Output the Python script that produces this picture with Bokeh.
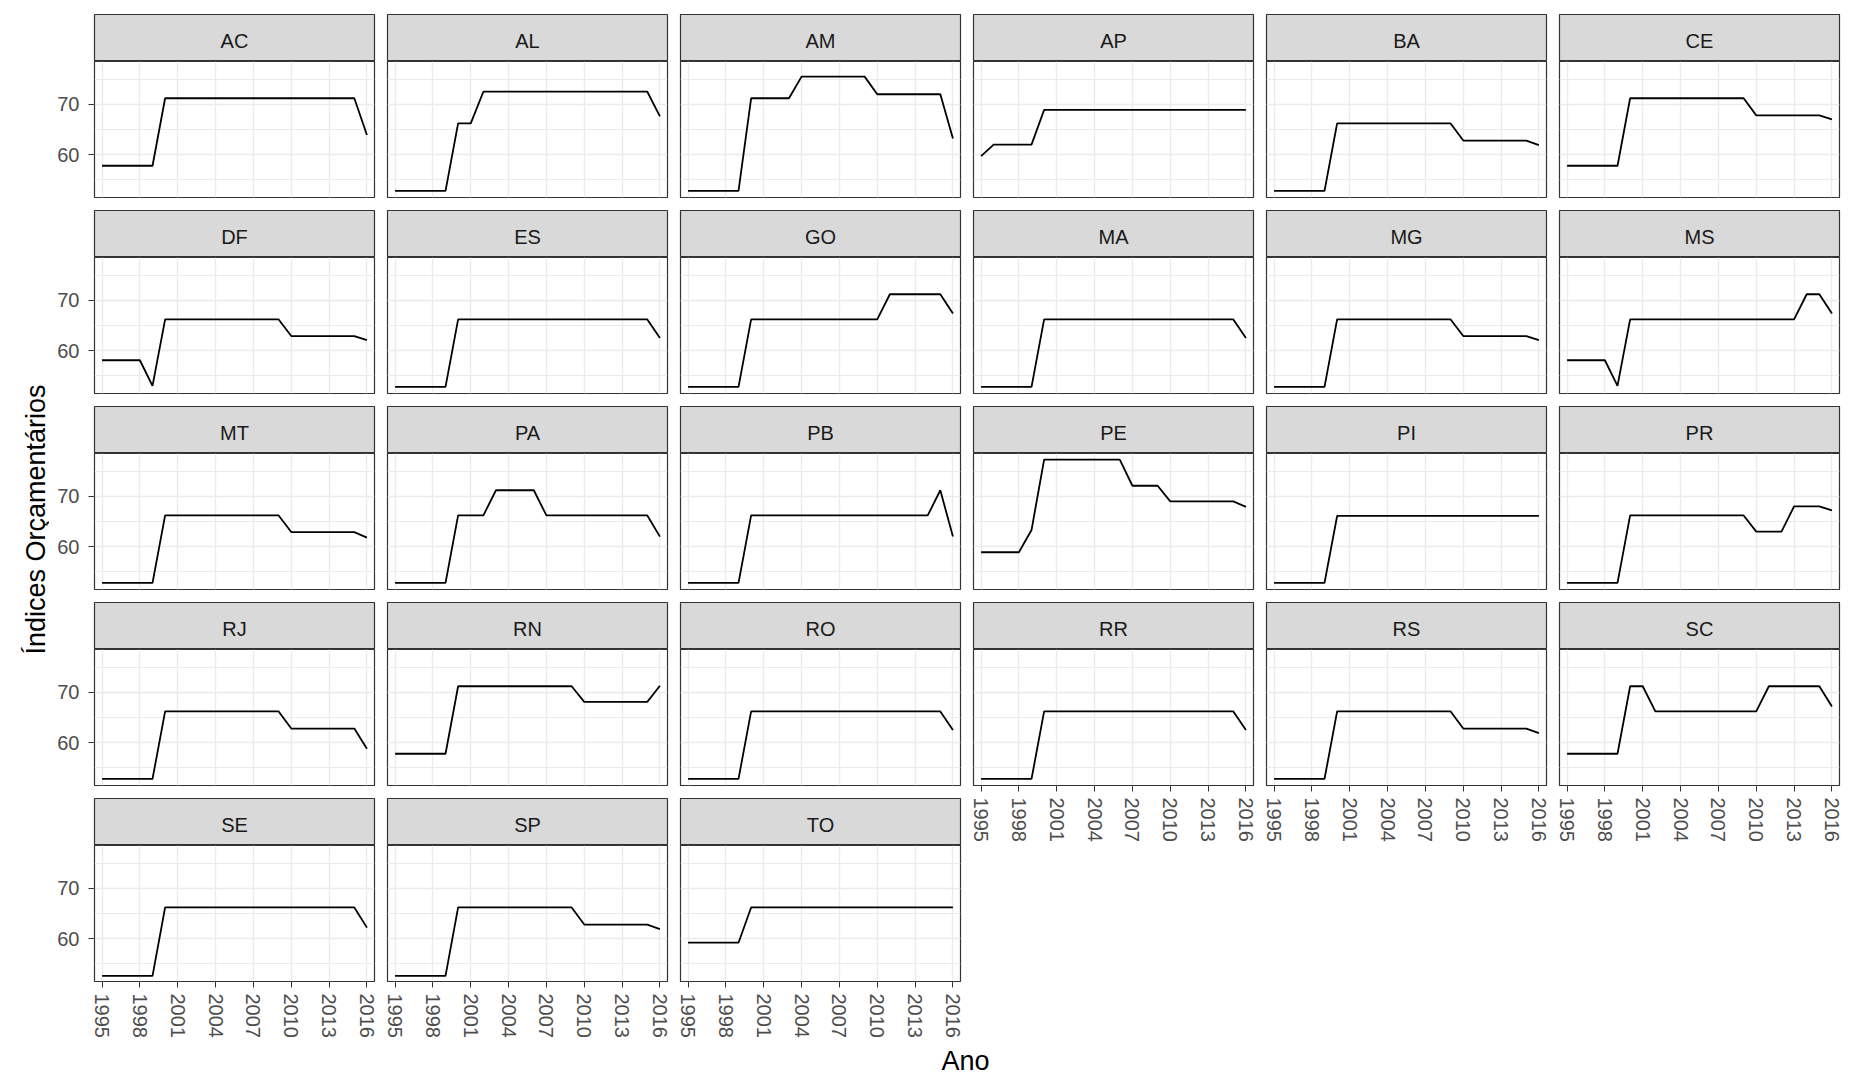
from bokeh.plotting import figure
from bokeh.models import Range1d, FixedTicker, Label
from bokeh.layouts import row, column
from bokeh.embed import file_html
from bokeh.resources import INLINE

# ---------------- data ----------------
YEARS = [1995, 1996, 1997, 1998, 1999, 2000, 2001, 2002, 2003, 2004, 2005,
         2006, 2007, 2008, 2009, 2010, 2011, 2012, 2013, 2014, 2015, 2016]
X_TICKS = [1995, 1998, 2001, 2004, 2007, 2010, 2013, 2016]
Y_TICKS = [60, 70]
Y_MINOR = [55, 65, 75]
STATES = ["AC", "AL", "AM", "AP", "BA", "CE", "DF", "ES", "GO", "MA", "MG", "MS",
          "MT", "PA", "PB", "PE", "PI", "PR", "RJ", "RN", "RO", "RR", "RS", "SC",
          "SE", "SP", "TO"]

AC = [57.8, 57.8, 57.8, 57.8, 57.8, 71.2, 71.2, 71.2, 71.2, 71.2, 71.2,
      71.2, 71.2, 71.2, 71.2, 71.2, 71.2, 71.2, 71.2, 71.2, 71.2, 63.9]
AL = [52.8, 52.8, 52.8, 52.8, 52.8, 66.2, 66.2, 72.5, 72.5, 72.5, 72.5,
      72.5, 72.5, 72.5, 72.5, 72.5, 72.5, 72.5, 72.5, 72.5, 72.5, 67.6]
AM = [52.8, 52.8, 52.8, 52.8, 52.8, 71.2, 71.2, 71.2, 71.2, 75.5, 75.5,
      75.5, 75.5, 75.5, 75.5, 72.0, 72.0, 72.0, 72.0, 72.0, 72.0, 63.2]
AP = [59.7, 62.0, 62.0, 62.0, 62.0, 68.9, 68.9, 68.9, 68.9, 68.9, 68.9,
      68.9, 68.9, 68.9, 68.9, 68.9, 68.9, 68.9, 68.9, 68.9, 68.9, 68.9]
BA = [52.8, 52.8, 52.8, 52.8, 52.8, 66.2, 66.2, 66.2, 66.2, 66.2, 66.2,
      66.2, 66.2, 66.2, 66.2, 62.8, 62.8, 62.8, 62.8, 62.8, 62.8, 61.9]
CE = [57.8, 57.8, 57.8, 57.8, 57.8, 71.2, 71.2, 71.2, 71.2, 71.2, 71.2,
      71.2, 71.2, 71.2, 71.2, 67.8, 67.8, 67.8, 67.8, 67.8, 67.8, 67.0]
DF = [58.1, 58.1, 58.1, 58.1, 53.0, 66.2, 66.2, 66.2, 66.2, 66.2, 66.2,
      66.2, 66.2, 66.2, 66.2, 62.9, 62.9, 62.9, 62.9, 62.9, 62.9, 62.1]
ES = [52.8, 52.8, 52.8, 52.8, 52.8, 66.2, 66.2, 66.2, 66.2, 66.2, 66.2,
      66.2, 66.2, 66.2, 66.2, 66.2, 66.2, 66.2, 66.2, 66.2, 66.2, 62.5]
GO = [52.8, 52.8, 52.8, 52.8, 52.8, 66.2, 66.2, 66.2, 66.2, 66.2, 66.2,
      66.2, 66.2, 66.2, 66.2, 66.2, 71.2, 71.2, 71.2, 71.2, 71.2, 67.4]
MA = [52.8, 52.8, 52.8, 52.8, 52.8, 66.2, 66.2, 66.2, 66.2, 66.2, 66.2,
      66.2, 66.2, 66.2, 66.2, 66.2, 66.2, 66.2, 66.2, 66.2, 66.2, 62.5]
MG = [52.8, 52.8, 52.8, 52.8, 52.8, 66.2, 66.2, 66.2, 66.2, 66.2, 66.2,
      66.2, 66.2, 66.2, 66.2, 62.9, 62.9, 62.9, 62.9, 62.9, 62.9, 62.1]
MS = [58.1, 58.1, 58.1, 58.1, 53.0, 66.2, 66.2, 66.2, 66.2, 66.2, 66.2,
      66.2, 66.2, 66.2, 66.2, 66.2, 66.2, 66.2, 66.2, 71.2, 71.2, 67.4]
MT = [52.8, 52.8, 52.8, 52.8, 52.8, 66.2, 66.2, 66.2, 66.2, 66.2, 66.2,
      66.2, 66.2, 66.2, 66.2, 62.9, 62.9, 62.9, 62.9, 62.9, 62.9, 61.8]
PA = [52.8, 52.8, 52.8, 52.8, 52.8, 66.2, 66.2, 66.2, 71.2, 71.2, 71.2,
      71.2, 66.2, 66.2, 66.2, 66.2, 66.2, 66.2, 66.2, 66.2, 66.2, 62.0]
PB = [52.8, 52.8, 52.8, 52.8, 52.8, 66.2, 66.2, 66.2, 66.2, 66.2, 66.2,
      66.2, 66.2, 66.2, 66.2, 66.2, 66.2, 66.2, 66.2, 66.2, 71.2, 62.0]
PE = [58.9, 58.9, 58.9, 58.9, 63.3, 77.3, 77.3, 77.3, 77.3, 77.3, 77.3,
      77.3, 72.1, 72.1, 72.1, 69.0, 69.0, 69.0, 69.0, 69.0, 69.0, 67.9]
PI = [52.8, 52.8, 52.8, 52.8, 52.8, 66.1, 66.1, 66.1, 66.1, 66.1, 66.1,
      66.1, 66.1, 66.1, 66.1, 66.1, 66.1, 66.1, 66.1, 66.1, 66.1, 66.1]
PR = [52.8, 52.8, 52.8, 52.8, 52.8, 66.2, 66.2, 66.2, 66.2, 66.2, 66.2,
      66.2, 66.2, 66.2, 66.2, 63.0, 63.0, 63.0, 68.0, 68.0, 68.0, 67.2]
RJ = [52.8, 52.8, 52.8, 52.8, 52.8, 66.2, 66.2, 66.2, 66.2, 66.2, 66.2,
      66.2, 66.2, 66.2, 66.2, 62.8, 62.8, 62.8, 62.8, 62.8, 62.8, 58.8]
RN = [57.8, 57.8, 57.8, 57.8, 57.8, 71.2, 71.2, 71.2, 71.2, 71.2, 71.2,
      71.2, 71.2, 71.2, 71.2, 68.1, 68.1, 68.1, 68.1, 68.1, 68.1, 71.3]
RO = [52.8, 52.8, 52.8, 52.8, 52.8, 66.2, 66.2, 66.2, 66.2, 66.2, 66.2,
      66.2, 66.2, 66.2, 66.2, 66.2, 66.2, 66.2, 66.2, 66.2, 66.2, 62.5]
RR = [52.8, 52.8, 52.8, 52.8, 52.8, 66.2, 66.2, 66.2, 66.2, 66.2, 66.2,
      66.2, 66.2, 66.2, 66.2, 66.2, 66.2, 66.2, 66.2, 66.2, 66.2, 62.5]
RS = [52.8, 52.8, 52.8, 52.8, 52.8, 66.2, 66.2, 66.2, 66.2, 66.2, 66.2,
      66.2, 66.2, 66.2, 66.2, 62.8, 62.8, 62.8, 62.8, 62.8, 62.8, 61.9]
SC = [57.8, 57.8, 57.8, 57.8, 57.8, 71.2, 71.2, 66.2, 66.2, 66.2, 66.2,
      66.2, 66.2, 66.2, 66.2, 66.2, 71.2, 71.2, 71.2, 71.2, 71.2, 67.2]
SE = [52.6, 52.6, 52.6, 52.6, 52.6, 66.2, 66.2, 66.2, 66.2, 66.2, 66.2,
      66.2, 66.2, 66.2, 66.2, 66.2, 66.2, 66.2, 66.2, 66.2, 66.2, 62.2]
SP = [52.6, 52.6, 52.6, 52.6, 52.6, 66.2, 66.2, 66.2, 66.2, 66.2, 66.2,
      66.2, 66.2, 66.2, 66.2, 62.8, 62.8, 62.8, 62.8, 62.8, 62.8, 61.9]
TO = [59.2, 59.2, 59.2, 59.2, 59.2, 66.2, 66.2, 66.2, 66.2, 66.2, 66.2,
      66.2, 66.2, 66.2, 66.2, 66.2, 66.2, 66.2, 66.2, 66.2, 66.2, 66.2]

SERIES = {"AC": AC, "AL": AL, "AM": AM, "AP": AP, "BA": BA, "CE": CE, "DF": DF,
          "ES": ES, "GO": GO, "MA": MA, "MG": MG, "MS": MS, "MT": MT, "PA": PA,
          "PB": PB, "PE": PE, "PI": PI, "PR": PR, "RJ": RJ, "RN": RN, "RO": RO,
          "RR": RR, "RS": RS, "SC": SC, "SE": SE, "SP": SP, "TO": TO}

X_TITLE = "Ano"
Y_TITLE = "Índices Orçamentários"

# ---------------- layout constants ----------------
NCOL = 6
FW, PH, SH = 280, 136, 47
GAP_Y = 13
PAD_L, PAD_R = 6, 7          # left / right border of each column (together the gap)
LEFT_AX = 45
LAST_RIGHT = 10
BOTTOM_AX = 56
TOP_PAD = 14
YLAB_W = 49
ANO_H = 35
FONT = "Liberation Sans"
X_RANGE = (1994.4, 2016.6)
Y_RANGE = (51.5, 78.5)


def make_strip(name, left, right, top):
    s = figure(frame_width=FW, frame_height=SH, x_range=Range1d(0, 1), y_range=Range1d(0, 1),
               x_axis_location=None, y_axis_location=None, toolbar_location=None, tools="",
               output_backend="svg", min_border_left=left, min_border_right=right,
               min_border_top=top, min_border_bottom=0,
               background_fill_color="#D9D9D9", border_fill_color="white")
    s.grid.visible = False
    s.outline_line_color = "#333333"
    s.outline_line_width = 1.2
    s.add_layout(Label(x=0.5, y=0.44, text=name, text_align="center", text_baseline="middle",
                       text_font=FONT, text_font_size="20px", text_color="#1A1A1A"))
    return s


def make_panel(vals, left, right, bottom, show_x, show_y):
    p = figure(frame_width=FW, frame_height=PH, x_range=Range1d(*X_RANGE), y_range=Range1d(*Y_RANGE),
               x_axis_location="below" if show_x else None,
               y_axis_location="left" if show_y else None,
               toolbar_location=None, tools="", output_backend="svg",
               min_border_left=left, min_border_right=right, min_border_top=0,
               min_border_bottom=bottom, background_fill_color="white", border_fill_color="white")
    p.outline_line_color = "#333333"
    p.outline_line_width = 1.2
    p.xgrid.ticker = FixedTicker(ticks=X_TICKS)
    p.ygrid.ticker = FixedTicker(ticks=Y_TICKS, minor_ticks=Y_MINOR)
    p.xgrid.grid_line_color = "#EBEBEB"
    p.xgrid.grid_line_width = 1.3
    p.ygrid.grid_line_color = "#EBEBEB"
    p.ygrid.grid_line_width = 1.3
    p.ygrid.minor_grid_line_color = "#EBEBEB"
    p.ygrid.minor_grid_line_width = 1.0
    p.line(YEARS, vals, line_color="black", line_width=1.8)
    if show_x:
        ax = p.xaxis[0]
        ax.ticker = FixedTicker(ticks=X_TICKS)
        ax.major_label_orientation = "vertical"
        ax.axis_line_color = None
        ax.major_tick_line_color = "#333333"
        ax.major_tick_out = 6
        ax.major_tick_in = 0
        ax.minor_tick_line_color = None
        ax.major_label_standoff = 6
        ax.major_label_text_font = FONT
        ax.major_label_text_font_size = "20px"
        ax.major_label_text_color = "#4D4D4D"
    if show_y:
        ay = p.yaxis[0]
        ay.ticker = FixedTicker(ticks=Y_TICKS)
        ay.axis_line_color = None
        ay.major_tick_line_color = "#333333"
        ay.major_tick_out = 6
        ay.major_tick_in = 0
        ay.minor_tick_line_color = None
        ay.major_label_standoff = 9
        ay.major_label_text_font = FONT
        ay.major_label_text_font_size = "20px"
        ay.major_label_text_color = "#4D4D4D"
    return p


cols = []
n = len(STATES)
for c in range(NCOL):
    idx = list(range(c, n, NCOL))
    kids = []
    for j, i in enumerate(idx):
        name = STATES[i]
        first = j == 0
        last = j == len(idx) - 1
        left = LEFT_AX if c == 0 else PAD_L
        right = PAD_R if c < NCOL - 1 else LAST_RIGHT
        kids.append(make_strip(name, left, right, TOP_PAD if first else 1))
        kids.append(make_panel(SERIES[name], left, right, BOTTOM_AX if last else GAP_Y - 1,
                               show_x=last, show_y=(c == 0)))
    cols.append(column(*kids, spacing=0))

total_h = TOP_PAD + 5 * (SH + PH) + 4 * GAP_Y + BOTTOM_AX
ylab = figure(width=YLAB_W, height=total_h, x_range=Range1d(0, YLAB_W), y_range=Range1d(0, total_h),
              x_axis_location=None, y_axis_location=None, toolbar_location=None, tools="",
              output_backend="svg", min_border=0, outline_line_color=None)
ylab.grid.visible = False
ylab.add_layout(Label(x=35, y=total_h - 519, text=Y_TITLE, angle=1.5707963267948966,
                      text_align="center", text_baseline="middle", text_font=FONT,
                      text_font_size="27px", text_color="black"))

total_w = (YLAB_W + (LEFT_AX + FW + PAD_R) + 4 * (PAD_L + FW + PAD_R)
           + (PAD_L + FW + LAST_RIGHT))
ano = figure(width=total_w, height=ANO_H, x_range=Range1d(0, total_w), y_range=Range1d(0, ANO_H),
             x_axis_location=None, y_axis_location=None, toolbar_location=None, tools="",
             output_backend="svg", min_border=0, outline_line_color=None)
ano.grid.visible = False
ano.add_layout(Label(x=965, y=15, text=X_TITLE, text_align="center", text_baseline="middle",
                     text_font=FONT, text_font_size="27px", text_color="black"))

layout = column(row(ylab, *cols, spacing=0), ano, spacing=0)

open("out.html", "w").write(file_html(layout, INLINE, title="Índices Orçamentários"))
